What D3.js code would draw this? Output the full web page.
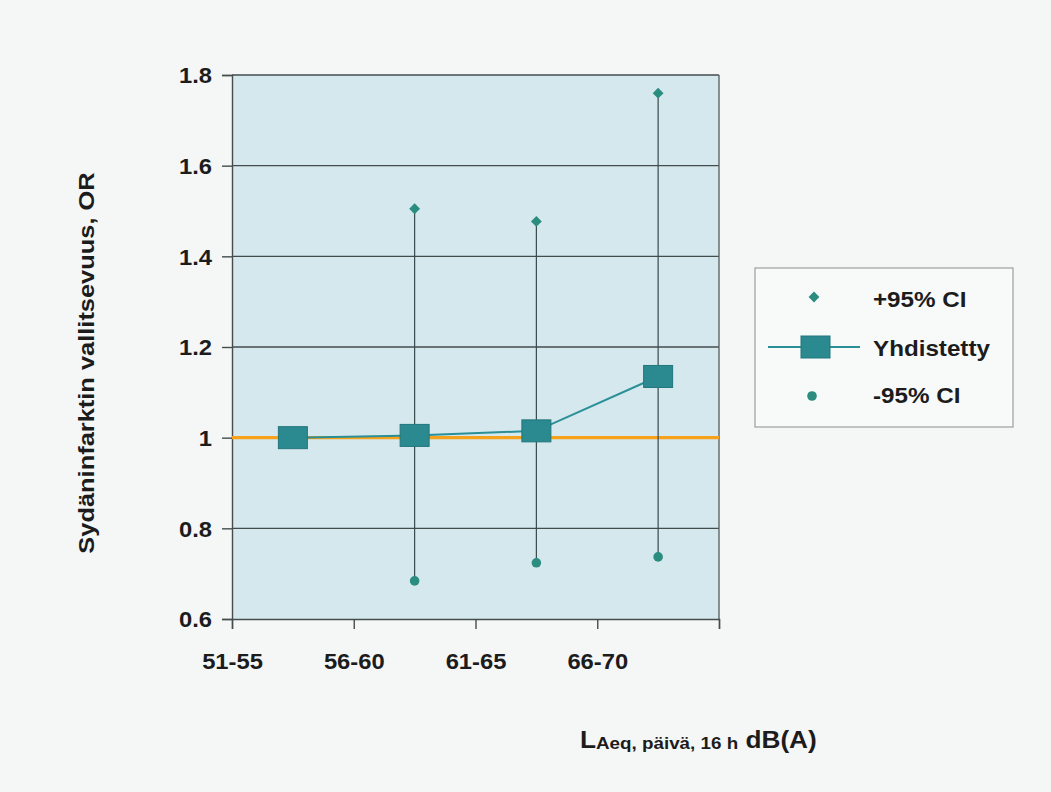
<!DOCTYPE html>
<html>
<head>
<meta charset="utf-8">
<script src="https://cdn.jsdelivr.net/npm/d3@7"></script>
<style>
  html, body { margin: 0; padding: 0; background: #f5f7f7; }
  svg { display: block; }
  text { font-family: "Liberation Sans", Arial, sans-serif; font-weight: bold; fill: #1c1c1c; }
</style>
</head>
<body>
<svg id="chart" width="1051" height="792"></svg>
<script>
// Noise-level bands (dB) and odds ratios per band
const categories = ["51-55", "56-60", "61-65", "66-70"];
const combined = [1.0, 1.005, 1.015, 1.135];     // Yhdistetty
const upperCI = [null, 1.505, 1.477, 1.76];       // +95% CI
const lowerCI = [null, 0.684, 0.724, 0.737];      // -95% CI
const yTicks = [0.6, 0.8, 1, 1.2, 1.4, 1.6, 1.8];
const referenceOR = 1;

const svg = d3.select("#chart");
const plot = { left: 232, top: 75, right: 719, bottom: 619 };
const TX = 1.08; // horizontal text stretch

const x = d3.scaleLinear().domain([0, categories.length]).range([plot.left, plot.right]);
const y = d3.scaleLinear().domain([0.6, 1.8]).range([plot.bottom, plot.top]);

// plot background
svg.append("rect")
  .attr("x", plot.left).attr("y", plot.top)
  .attr("width", plot.right - plot.left).attr("height", plot.bottom - plot.top)
  .attr("fill", "#d4e8ee");

// horizontal gridlines
svg.append("g").selectAll("line")
  .data(yTicks.filter(v => v > 0.6))
  .join("line")
  .attr("x1", plot.left).attr("x2", plot.right)
  .attr("y1", d => y(d)).attr("y2", d => y(d))
  .attr("stroke", "#444c4c").attr("stroke-width", 1.4);

// right border
svg.append("line")
  .attr("x1", plot.right).attr("x2", plot.right)
  .attr("y1", plot.top).attr("y2", plot.bottom)
  .attr("stroke", "#5e6464").attr("stroke-width", 1.4);

// y axis
const yAxis = svg.append("g")
  .attr("transform", `translate(${plot.left},0)`)
  .call(d3.axisLeft(y).tickValues(yTicks).tickSize(10).tickPadding(0)
    .tickFormat(d => d === 1 ? "1" : d3.format(".1f")(d)));
yAxis.select(".domain").attr("stroke", "#444c4c").attr("stroke-width", 1.4);
yAxis.selectAll(".tick line").attr("stroke", "#444c4c").attr("stroke-width", 1.4);
yAxis.selectAll(".tick text")
  .attr("x", null).attr("dy", null)
  .attr("font-size", 22).attr("fill", "#1c1c1c")
  .attr("dominant-baseline", "central")
  .attr("transform", `translate(-20,0) scale(${TX},1)`);

// x axis: labels sit on the band boundaries
const xAxis = svg.append("g")
  .attr("transform", `translate(0,${plot.bottom})`)
  .call(d3.axisBottom(x).tickValues(d3.range(categories.length + 1)).tickSize(10).tickPadding(0)
    .tickFormat(i => categories[i] || ""));
xAxis.select(".domain").attr("stroke", "#444c4c").attr("stroke-width", 1.4);
xAxis.selectAll(".tick line").attr("stroke", "#444c4c").attr("stroke-width", 1.4);
xAxis.selectAll(".tick text")
  .attr("y", null).attr("dy", null)
  .attr("font-size", 22).attr("fill", "#1c1c1c")
  .attr("transform", `translate(0,50) scale(${TX},1)`);

// reference line OR = 1
svg.append("line")
  .attr("x1", plot.left).attr("x2", plot.right)
  .attr("y1", y(referenceOR)).attr("y2", y(referenceOR))
  .attr("stroke", "#f7a21c").attr("stroke-width", 3.2);

const cx = i => x(i + 0.5);
const idx = d3.range(categories.length);
const ciIdx = idx.filter(i => upperCI[i] != null);

// confidence interval whiskers
svg.append("g").selectAll("line")
  .data(ciIdx)
  .join("line")
  .attr("x1", cx).attr("x2", cx)
  .attr("y1", i => y(lowerCI[i])).attr("y2", i => y(upperCI[i]))
  .attr("stroke", "#3a4a4c").attr("stroke-width", 1.2);

// combined OR line
svg.append("path")
  .datum(idx)
  .attr("fill", "none")
  .attr("stroke", "#2a8f96").attr("stroke-width", 2)
  .attr("d", d3.line().x(cx).y(i => y(combined[i])));

const diamond = d3.symbol().type(d3.symbolDiamond2).size(75);
const teal = "#2b8c80";

// +95% CI markers
svg.append("g").selectAll("path")
  .data(ciIdx)
  .join("path")
  .attr("d", diamond)
  .attr("transform", i => `translate(${cx(i)},${y(upperCI[i])})`)
  .attr("fill", teal);

// -95% CI markers
svg.append("g").selectAll("circle")
  .data(ciIdx)
  .join("circle")
  .attr("cx", cx).attr("cy", i => y(lowerCI[i])).attr("r", 4.8)
  .attr("fill", teal);

// combined OR squares
const sqW = 29, sqH = 22;
svg.append("g").selectAll("rect")
  .data(idx)
  .join("rect")
  .attr("x", i => cx(i) - sqW / 2).attr("y", i => y(combined[i]) - sqH / 2)
  .attr("width", sqW).attr("height", sqH)
  .attr("fill", "#2b8a90").attr("stroke", "#22767c").attr("stroke-width", 1);

// y axis title
svg.append("text")
  .attr("transform", `translate(94,363) rotate(-90) scale(1.13,1)`)
  .attr("text-anchor", "middle")
  .attr("font-size", 22.5)
  .text("Sydäninfarktin vallitsevuus, OR");

// x axis title
const xt = svg.append("text")
  .attr("transform", `translate(580,748) scale(1.14,1)`);
xt.append("tspan").attr("font-size", 23).text("L");
xt.append("tspan").attr("font-size", 16.5).attr("dy", 1).text("Aeq, päivä, 16 h");
xt.append("tspan").attr("font-size", 23).attr("dy", -1).text(" dB(A)");

// legend
const lg = svg.append("g");
lg.append("rect")
  .attr("x", 755).attr("y", 268).attr("width", 258).attr("height", 159)
  .attr("fill", "#f8fafa").attr("stroke", "#9a9e9e").attr("stroke-width", 1.2);
lg.append("path").attr("d", diamond)
  .attr("transform", "translate(814,297)").attr("fill", teal);
lg.append("line").attr("x1", 768).attr("x2", 860).attr("y1", 347).attr("y2", 347)
  .attr("stroke", "#2a8f96").attr("stroke-width", 2);
lg.append("rect").attr("x", 801).attr("y", 336).attr("width", sqW).attr("height", sqH)
  .attr("fill", "#2b8a90").attr("stroke", "#22767c").attr("stroke-width", 1);
lg.append("circle").attr("cx", 812).attr("cy", 396).attr("r", 4.8).attr("fill", teal);
const legendLabels = ["+95% CI", "Yhdistetty", "-95% CI"];
const legendBaselines = [307, 356, 403];
lg.selectAll("text.lbl")
  .data(legendLabels)
  .join("text")
  .attr("class", "lbl")
  .attr("transform", (d, i) => `translate(873,${legendBaselines[i]}) scale(1.1,1)`)
  .attr("font-size", 22)
  .text(d => d);
</script>
</body>
</html>
